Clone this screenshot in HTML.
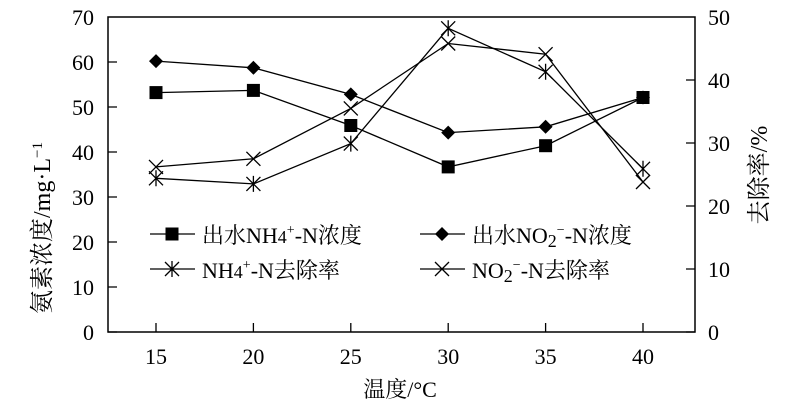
<!DOCTYPE html>
<html><head><meta charset="utf-8"><style>body{margin:0;background:#fff}svg{display:block}</style></head>
<body>
<svg width="800" height="410" xmlns="http://www.w3.org/2000/svg" font-family="'Liberation Serif','Noto Serif CJK SC',serif" font-size="22" fill="#000">
<defs>
<g id="sq"><rect x="-6.5" y="-6.5" width="13" height="13" fill="#000"/></g>
<g id="di"><path d="M0,-7 L7,0 L0,7 L-7,0Z" fill="#000"/></g>
<g id="st" stroke="#000" stroke-width="1.3" fill="none"><path d="M-7,-7L7,7M-7,7L7,-7M0,-8V8"/></g>
<g id="cr" stroke="#000" stroke-width="1.3" fill="none"><path d="M-7,-7L7,7M-7,7L7,-7"/></g>
</defs>
<rect x="108" y="17" width="587" height="315" fill="none" stroke="#000" stroke-width="1.5"/>
<g stroke="#000" stroke-width="1.3">
<path d="M108,332h9M108,287h9M108,242h9M108,197h9M108,152h9M108,107h9M108,62h9"/>
<path d="M695,332h-9M695,269h-9M695,206h-9M695,143h-9M695,80h-9"/>
<path d="M156,332v-9M253.4,332v-9M350.8,332v-9M448.2,332v-9M545.6,332v-9M643,332v-9"/>
</g>
<g text-anchor="end">
<text x="94" y="340">0</text><text x="94" y="295">10</text><text x="94" y="250">20</text><text x="94" y="205">30</text><text x="94" y="160">40</text><text x="94" y="115">50</text><text x="94" y="70">60</text><text x="94" y="25">70</text>
</g>
<g text-anchor="start">
<text x="708" y="340">0</text><text x="708" y="277">10</text><text x="708" y="214">20</text><text x="708" y="151">30</text><text x="708" y="88">40</text><text x="708" y="25">50</text>
</g>
<g text-anchor="middle">
<text x="156" y="364">15</text><text x="253.4" y="364">20</text><text x="350.8" y="364">25</text><text x="448.2" y="364">30</text><text x="545.6" y="364">35</text><text x="643" y="364">40</text>
<text x="400" y="397" font-size="22">温度/°C</text>
</g>
<text transform="translate(50,228) rotate(-90)" text-anchor="middle" font-size="24">氨素浓度/mg·L<tspan dy="-8" font-size="15">−1</tspan></text>
<text transform="translate(767,175) rotate(-90)" text-anchor="middle" font-size="24">去除率/%</text>
<g fill="none" stroke="#000" stroke-width="1.3">
<polyline points="156,61.1 253.4,67.8 350.8,94.4 448.2,132.6 545.6,126.8 643,97.5"/>
<polyline points="156,92.6 253.4,90.4 350.8,125.5 448.2,166.9 545.6,145.7 643,97.5"/>
<polyline points="156,178.3 253.4,183.9 350.8,143.6 448.2,28.3 545.6,71.8 643,168.8"/>
<polyline points="156,166.9 253.4,158.8 350.8,108.4 448.2,43.5 545.6,54.2 643,182"/>
</g>
<use href="#di" x="156" y="61.1"/><use href="#di" x="253.4" y="67.8"/><use href="#di" x="350.8" y="94.4"/><use href="#di" x="448.2" y="132.6"/><use href="#di" x="545.6" y="126.8"/><use href="#di" x="643" y="97.5"/>
<use href="#sq" x="156" y="92.6"/><use href="#sq" x="253.4" y="90.4"/><use href="#sq" x="350.8" y="125.5"/><use href="#sq" x="448.2" y="166.9"/><use href="#sq" x="545.6" y="145.7"/><use href="#sq" x="643" y="97.5"/>
<use href="#st" x="156" y="178.3"/><use href="#st" x="253.4" y="183.9"/><use href="#st" x="350.8" y="143.6"/><use href="#st" x="448.2" y="28.3"/><use href="#st" x="545.6" y="71.8"/><use href="#st" x="643" y="168.8"/>
<use href="#cr" x="156" y="166.9"/><use href="#cr" x="253.4" y="158.8"/><use href="#cr" x="350.8" y="108.4"/><use href="#cr" x="448.2" y="43.5"/><use href="#cr" x="545.6" y="54.2"/><use href="#cr" x="643" y="182"/>
<g stroke="#000" stroke-width="1.3"><path d="M150,234h45M150,269h45M420,234h45M420,269h45"/></g>
<use href="#sq" x="172" y="234"/><use href="#st" x="172" y="269"/><use href="#di" x="442" y="234"/><use href="#cr" x="442" y="269"/>
<g font-size="22">
<text x="202" y="243">出水NH<tspan font-size="18">4</tspan><tspan dy="-9" font-size="14">+</tspan><tspan dy="9">-N浓度</tspan></text>
<text x="472" y="243">出水NO<tspan font-size="18" dy="4">2</tspan><tspan dy="-13" font-size="14">−</tspan><tspan dy="9">-N浓度</tspan></text>
<text x="202" y="278">NH<tspan font-size="18">4</tspan><tspan dy="-9" font-size="14">+</tspan><tspan dy="9">-N去除率</tspan></text>
<text x="472" y="278">NO<tspan font-size="18" dy="4">2</tspan><tspan dy="-13" font-size="14">−</tspan><tspan dy="9">-N去除率</tspan></text>
</g>
</svg>
</body></html>
